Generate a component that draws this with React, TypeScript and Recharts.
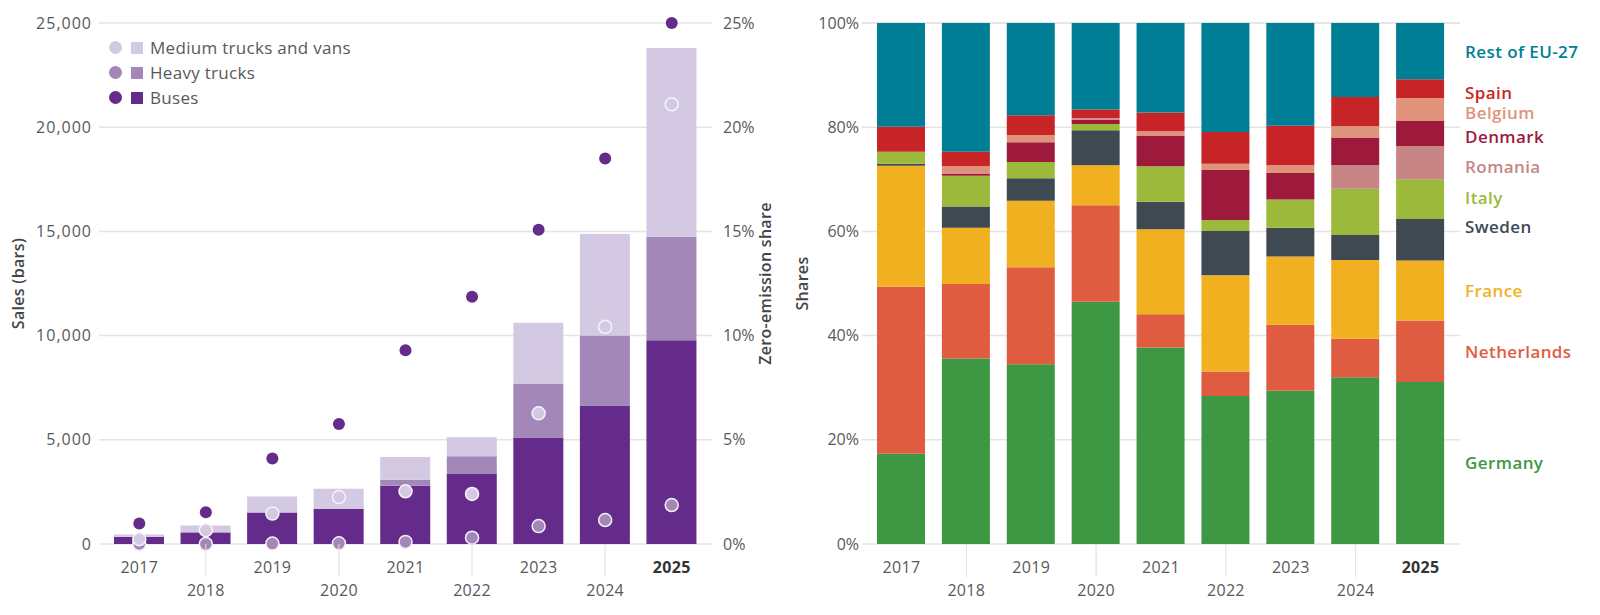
import React from 'react';
import { ComposedChart, BarChart, Bar, Scatter, XAxis, YAxis, CartesianGrid, LabelList } from 'recharts';

// ---------- data ----------
const years = ['2017', '2018', '2019', '2020', '2021', '2022', '2023', '2024', '2025'];

// Left chart: sales (bars)
const busSales = [330, 540, 1490, 1680, 2800, 3380, 5110, 6640, 9780];
const heavySales = [20, 30, 30, 20, 280, 830, 2590, 3370, 4960];
const mediumSales = [110, 320, 760, 950, 1100, 910, 2920, 4870, 9060];

// Left chart: zero-emission share (%, dots)
const busShare = [0.98, 1.52, 4.1, 5.76, 9.3, 11.86, 15.08, 18.5, 25.0];
const heavyShare = [0.0, 0.0, 0.02, 0.03, 0.1, 0.3, 0.86, 1.15, 1.87];
const mediumShare = [0.23, 0.66, 1.46, 2.25, 2.53, 2.4, 6.27, 10.42, 21.1];

const salesTicks = [0, 5000, 10000, 15000, 20000, 25000];
const shareTicks = [0, 5, 10, 15, 20, 25];
const pctTicks = [0, 20, 40, 60, 80, 100];

// Right chart: country shares (%)
const germany = [17.3, 35.6, 34.5, 46.5, 37.7, 28.4, 29.4, 32.0, 31.1];
const netherlands = [32.1, 14.3, 18.6, 18.5, 6.4, 4.7, 12.7, 7.4, 11.8];
const france = [23.2, 10.8, 12.8, 7.7, 16.3, 18.5, 13.1, 15.1, 11.5];
const sweden = [0.4, 4.1, 4.3, 6.7, 5.3, 8.5, 5.5, 4.8, 8.0];
const italy = [2.3, 5.9, 3.1, 1.2, 6.8, 2.1, 5.4, 8.9, 7.6];
const romania = [0, 0, 0, 0, 0, 0, 0, 4.5, 6.4];
const denmark = [0, 0.4, 3.8, 0.9, 5.9, 9.6, 5.1, 5.3, 4.8];
const belgium = [0, 1.4, 1.4, 0.2, 0.8, 1.2, 1.5, 2.2, 4.4];
const spain = [4.8, 2.8, 3.8, 1.7, 3.6, 6.1, 7.6, 5.6, 3.6];
const restEU = [19.9, 24.7, 17.7, 16.6, 17.2, 20.9, 19.7, 14.2, 10.8];

const countryNames = ['Germany', 'Netherlands', 'France', 'Sweden', 'Italy', 'Romania', 'Denmark', 'Belgium', 'Spain', 'Rest of EU-27'];
const countryKeys = ['germany', 'netherlands', 'france', 'sweden', 'italy', 'romania', 'denmark', 'belgium', 'spain', 'rest'];
const countryValues = [germany, netherlands, france, sweden, italy, romania, denmark, belgium, spain, restEU];
const countryColors = ['#3e9742', '#e05c41', '#f1b01f', '#3e4952', '#9db93c', '#c78585', '#9d1a3d', '#e0937b', '#c72428', '#007e95'];
const countryLabelNudge = [0, 0, 0, -13, -2, 4, 3, 3, 4, 0];

const salesData = years.map((y, i) => ({
  year: y,
  bus: busSales[i],
  heavy: heavySales[i],
  medium: mediumSales[i],
  busShare: busShare[i],
  heavyShare: heavyShare[i],
  mediumShare: mediumShare[i],
}));

const shareData = years.map((y, i) => {
  const row: Record<string, number | string> = { year: y };
  countryKeys.forEach((k, j) => {
    row[k] = countryValues[j][i];
  });
  return row;
});

// ---------- styles ----------
const FONT = '"Open Sans", sans-serif';
const TICK_COLOR = '#58595b';
const GRID = '#e4e4e4';
const C_MED = '#d4c9e2';
const C_HEAVY = '#a287b8';
const C_BUS = '#642b8a';
const LAST_YEAR = years[years.length - 1];

const YearTick = (props: any) => {
  const { x, y, payload, index } = props;
  const lower = index % 2 === 1;
  const isLast = payload.value === LAST_YEAR;
  return (
    <g>
      {lower && <line x1={x} x2={x} y1={y} y2={y + 33} stroke="#dedede" strokeWidth={1} />}
      <text
        x={x}
        y={y + (lower ? 52 : 28.5)}
        textAnchor="middle"
        fill={isLast ? '#333' : TICK_COLOR}
        fontWeight={isLast ? 700 : 400}
        fontSize={16}
        fontFamily={FONT}
        letterSpacing={0.3}
      >
        {payload.value}
      </text>
    </g>
  );
};

const axisTitle = (text: string, side: 'left' | 'right', off: number) => (props: any) => {
  const { x, y, width, height } = props.viewBox;
  const cx = side === 'left' ? x + off : x + width - off;
  const cy = y + height / 2;
  return (
    <text
      x={cx}
      y={cy}
      transform={`rotate(-90 ${cx} ${cy})`}
      textAnchor="middle"
      dominantBaseline="central"
      fill="#444"
      fontSize={16}
      fontWeight={600}
      fontFamily={FONT}
      letterSpacing={0.3}
    >
      {text}
    </text>
  );
};

const dotShape = (fill: string, stroke: string | null, r: number) => (props: any) => {
  const { cx, cy } = props;
  if (cx == null || cy == null) return null;
  return (
    <circle
      cx={cx}
      cy={cy}
      r={r}
      fill={fill}
      stroke={stroke || 'none'}
      strokeWidth={stroke ? 1.5 : 0}
    />
  );
};

const countryLabel = (name: string, color: string, nudge: number) => (props: any) => {
  const { x, y, width, height, value } = props;
  if (value !== LAST_YEAR) return null;
  return (
    <text
      x={Number(x) + Number(width) + 21}
      y={Number(y) + Number(height) / 2 + nudge}
      dominantBaseline="central"
      fill={color}
      fontSize={17}
      fontWeight={600}
      fontFamily={FONT}
      letterSpacing={0.4}
    >
      {name}
    </text>
  );
};

const Legend = () => {
  const items = [
    { label: 'Medium trucks and vans', color: C_MED },
    { label: 'Heavy trucks', color: C_HEAVY },
    { label: 'Buses', color: C_BUS },
  ];
  return (
    <div style={{ position: 'absolute', left: 109, top: 35, fontFamily: FONT }}>
      {items.map((it) => (
        <div key={it.label} style={{ display: 'flex', alignItems: 'center', height: 25 }}>
          <span style={{ width: 13, height: 13, borderRadius: 7, background: it.color, display: 'inline-block' }} />
          <span style={{ width: 12, height: 12, background: it.color, display: 'inline-block', marginLeft: 9 }} />
          <span style={{ marginLeft: 7, fontSize: 17, letterSpacing: 0.3, color: TICK_COLOR, lineHeight: '20px' }}>{it.label}</span>
        </div>
      ))}
    </div>
  );
};

const tickStyle = { fill: TICK_COLOR, fontSize: 16, fontFamily: FONT };
const salesTickStyle = { fill: TICK_COLOR, fontSize: 16, fontFamily: FONT, letterSpacing: 1 };

export default function App() {
  return (
    <div style={{ position: 'absolute', left: 0, top: 0, width: 1600, height: 615, background: '#fff', overflow: 'hidden' }}>
      <div style={{ position: 'absolute', left: 0, top: 0 }}>
        <ComposedChart width={790} height={615} data={salesData} margin={{ top: 23, right: 0, bottom: 0, left: 0 }}>
          <CartesianGrid yAxisId="left" vertical={false} stroke={GRID} strokeWidth={1.5} />
          <XAxis
            dataKey="year"
            height={71}
            axisLine={false}
            tickLine={false}
            tickSize={0}
            tickMargin={0}
            interval={0}
            padding={{ left: 7, right: 7 }}
            tick={<YearTick />}
          />
          <YAxis
            yAxisId="left"
            width={99}
            domain={[0, 25000]}
            ticks={salesTicks}
            axisLine={false}
            tickLine={false}
            tickSize={0}
            tickMargin={7}
            tick={salesTickStyle}
            tickFormatter={(v: number) => v.toLocaleString('en-US')}
            label={{ content: axisTitle('Sales (bars)', 'left', 18) } as any}
          />
          <YAxis
            yAxisId="right"
            orientation="right"
            width={78}
            domain={[0, 25]}
            ticks={shareTicks}
            axisLine={false}
            tickLine={false}
            tickSize={0}
            tickMargin={11}
            tick={tickStyle}
            tickFormatter={(v: number) => `${v}%`}
            label={{ content: axisTitle('Zero-emission share', 'right', 25) } as any}
          />
          <Bar yAxisId="left" dataKey="bus" stackId="s" fill={C_BUS} barSize={50} isAnimationActive={false} />
          <Bar yAxisId="left" dataKey="heavy" stackId="s" fill={C_HEAVY} barSize={50} isAnimationActive={false} />
          <Bar yAxisId="left" dataKey="medium" stackId="s" fill={C_MED} barSize={50} isAnimationActive={false} />
          <Scatter yAxisId="right" dataKey="heavyShare" fill={C_HEAVY} shape={dotShape(C_HEAVY, '#f4f0f8', 6.5)} isAnimationActive={false} />
          <Scatter yAxisId="right" dataKey="mediumShare" fill={C_MED} shape={dotShape(C_MED, '#f7f4fa', 6.5)} isAnimationActive={false} />
          <Scatter yAxisId="right" dataKey="busShare" fill={C_BUS} shape={dotShape(C_BUS, null, 6)} isAnimationActive={false} />
        </ComposedChart>
        <Legend />
      </div>
      <div style={{ position: 'absolute', left: 790, top: 0 }}>
        <BarChart width={810} height={615} data={shareData} margin={{ top: 23, right: 140, bottom: 0, left: 0 }}>
          <CartesianGrid vertical={false} stroke={GRID} strokeWidth={1.5} />
          <XAxis
            dataKey="year"
            height={71}
            axisLine={false}
            tickLine={false}
            tickSize={0}
            tickMargin={0}
            interval={0}
            padding={{ left: 7, right: 7 }}
            tick={<YearTick />}
          />
          <YAxis
            width={72}
            domain={[0, 100]}
            ticks={pctTicks}
            axisLine={false}
            tickLine={false}
            tickSize={0}
            tickMargin={3}
            tick={tickStyle}
            tickFormatter={(v: number) => `${v}%`}
            label={{ content: axisTitle('Shares', 'left', 12) } as any}
          />
          {countryKeys.map((k, j) => (
            <Bar key={k} dataKey={k} stackId="c" fill={countryColors[j]} barSize={48} isAnimationActive={false}>
              <LabelList dataKey="year" content={countryLabel(countryNames[j], countryColors[j], countryLabelNudge[j])} />
            </Bar>
          ))}
        </BarChart>
      </div>
    </div>
  );
}
